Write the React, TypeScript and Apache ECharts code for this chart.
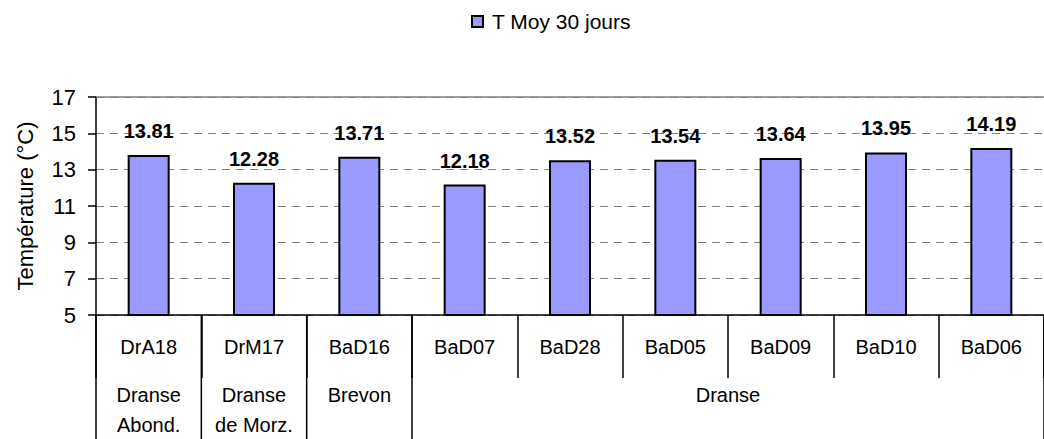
import React, { useEffect, useRef } from "react";
import * as echarts from "echarts";

const categories = ["DrA18", "DrM17", "BaD16", "BaD07", "BaD28", "BaD05", "BaD09", "BaD10", "BaD06"];
const values = [13.81, 12.28, 13.71, 12.18, 13.52, 13.54, 13.64, 13.95, 14.19];
const groupNames = ["Dranse\nAbond.", "Dranse\nde Morz.", "Brevon", "Dranse"];
const groupSizes = [1, 1, 1, 6];
const seriesName = "T Moy 30 jours";
const yMin = 5;
const yMax = 17;
const yStep = 2;

const FONT = "'Liberation Sans', Arial, sans-serif";

export default function App() {
  const ref = useRef<HTMLDivElement>(null);
  useEffect(() => {
    if (!ref.current) return;
    const chart = echarts.init(ref.current, null, { renderer: "svg" });
    const option: any = {
      animation: false,
      backgroundColor: "#fff",
      textStyle: { fontFamily: FONT, color: "#000" },
      legend: {
        data: [seriesName],
        left: 466,
        top: 6,
        itemWidth: 11,
        itemHeight: 11,
        itemGap: 10,
        icon: "rect",
        textStyle: { fontSize: 21, color: "#000", fontFamily: FONT, padding: [0, 0, 0, 4] },
      },
      grid: { left: 96, right: -13, top: 97, bottom: 124, containLabel: false },
      xAxis: [
        {
          type: "category",
          data: categories,
          position: "bottom",
          axisLine: { show: true, lineStyle: { color: "#000", width: 1.5 } },
          axisTick: { show: true, interval: 0, length: 63, alignWithLabel: false, lineStyle: { color: "#000", width: 1.5 } },
          axisLabel: { interval: 0, fontSize: 20, color: "#000", margin: 22, fontFamily: FONT },
          splitLine: { show: false },
        },
        {
          type: "category",
          data: categories,
          position: "top",
          axisLine: { show: true, lineStyle: { color: "#808080", width: 1.5 } },
          axisTick: { show: false },
          axisLabel: { show: false },
        },
        {
          type: "category",
          data: categories,
          position: "bottom",
          axisLine: { show: false },
          axisTick: { show: true, inside: true, length: 4, alignWithLabel: true, interval: 0, lineStyle: { color: "#000", width: 1.5 } },
          axisLabel: { show: false },
        },
      ],
      yAxis: {
        type: "value",
        min: yMin,
        max: yMax,
        interval: yStep,
        name: "Température (°C)",
        nameLocation: "middle",
        nameRotate: 90,
        nameGap: 60,
        nameTextStyle: { fontSize: 22, color: "#000", fontFamily: FONT },
        axisLine: { show: true, lineStyle: { color: "#000", width: 1.5 } },
        axisTick: { show: true, length: 8, lineStyle: { color: "#000", width: 1.5 } },
        axisLabel: { fontSize: 22, color: "#000", margin: 20, fontFamily: FONT },
        splitLine: { show: true, lineStyle: { color: "#808080", type: [8, 6], width: 1.2 } },
      },
      series: [
        {
          name: seriesName,
          type: "bar",
          data: values,
          xAxisIndex: 0,
          barWidth: 42,
          itemStyle: { color: "#9999FF", borderColor: "#000", borderWidth: 2 },
          label: {
            show: true,
            position: "top",
            distance: 14,
            fontSize: 20,
            fontWeight: "bold",
            color: "#000",
            fontFamily: FONT,
            formatter: (p: any) => p.value.toFixed(2),
          },
        },
      ],
    };
    chart.setOption(option);

    const c0 = chart.convertToPixel({ xAxisIndex: 0 }, categories[0]) as number;
    const c1 = chart.convertToPixel({ xAxisIndex: 0 }, categories[1]) as number;
    const band = c1 - c0;
    const yAxisPx = chart.convertToPixel({ yAxisIndex: 0 }, yMin) as number;
    const sepTop = yAxisPx;
    const sepBottom = 439;
    const graphics: any[] = [];
    let start = 0;
    const boundaries: number[] = [0];
    groupNames.forEach((name, i) => {
      const end = start + groupSizes[i];
      boundaries.push(end);
      const mid = c0 - band / 2 + band * ((start + end) / 2);
      graphics.push({
        type: "text",
        x: mid,
        y: yAxisPx + 65,
        style: {
          text: name,
          fontSize: 20,
          fontFamily: FONT,
          fill: "#000",
          align: "center",
          verticalAlign: "top",
          lineHeight: 30,
        },
      });
      start = end;
    });
    boundaries.forEach((b) => {
      const x = c0 - band / 2 + band * b;
      graphics.push({
        type: "line",
        shape: { x1: x, y1: sepTop, x2: x, y2: sepBottom },
        style: { stroke: "#000", lineWidth: 1.5 },
      });
    });
    chart.setOption({ graphic: graphics });

    return () => chart.dispose();
  }, []);
  return (
    <div
      ref={ref}
      style={{ position: "fixed", left: 0, top: 0, width: 1044, height: 439, background: "#fff" }}
    />
  );
}
